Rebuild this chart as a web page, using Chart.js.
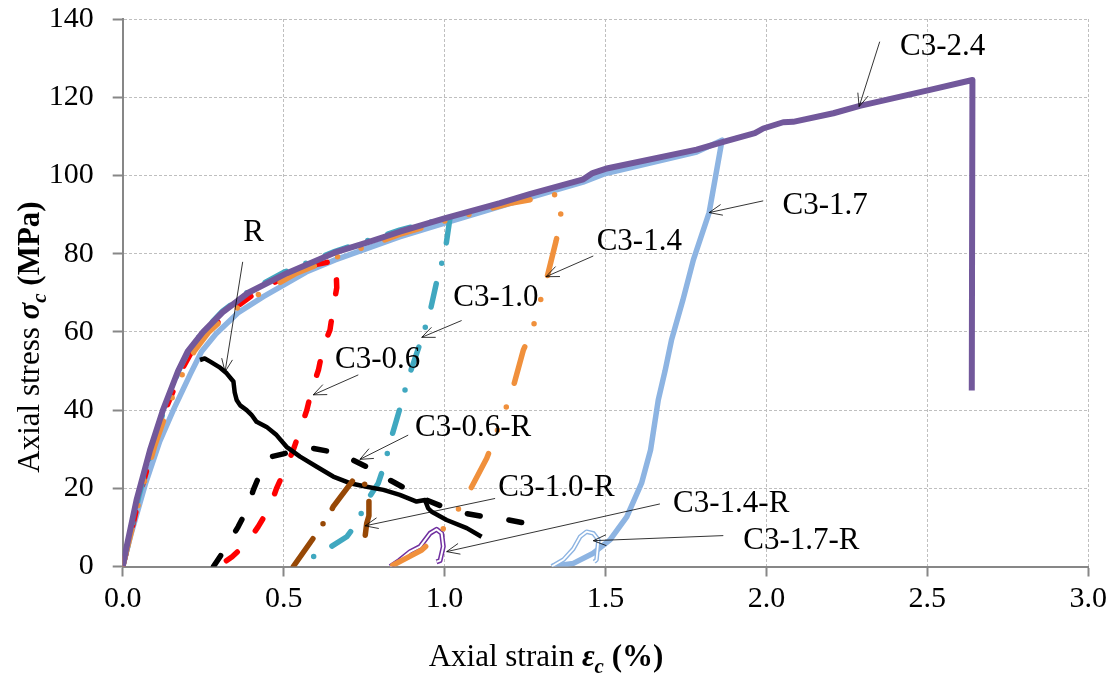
<!DOCTYPE html>
<html><head><meta charset="utf-8">
<script src="https://cdn.jsdelivr.net/npm/chart.js@4"></script>
<style>html,body{margin:0;padding:0;background:#fff}canvas{display:block}</style>
</head><body>
<canvas id="c" width="1118" height="682"></canvas>
<script>
// ---------- tick labels ----------
const xTickLabels = ['0.0', '0.5', '1.0', '1.5', '2.0', '2.5', '3.0'];
const yTickLabels = ['0', '20', '40', '60', '80', '100', '120', '140'];

// ---------- series (axial strain %, axial stress MPa) ----------
const c24X = [0, 0.01, 0.043, 0.085, 0.125, 0.172, 0.202, 0.25, 0.31, 0.39, 0.51, 0.66, 0.758, 0.861, 1.0, 1.172, 1.267, 1.431, 1.46, 1.5, 1.783, 1.866, 1.964, 1.99, 2.052, 2.083, 2.208, 2.29, 2.498, 2.64, 2.638];
const c24Y = [0, 4.2, 17, 29.8, 40, 50, 55, 60, 65, 70, 75, 80.3, 82.8, 85.6, 89.0, 92.9, 95.3, 99.0, 100.6, 101.7, 106.6, 108.6, 110.8, 112.0, 113.6, 113.7, 115.9, 117.8, 121.7, 124.4, 45];

const c17X = [0, 0.025, 0.07, 0.115, 0.16, 0.21, 0.245, 0.29, 0.36, 0.437, 0.57, 0.66, 0.86, 1.0, 1.267, 1.43, 1.5, 1.783, 1.862, 1.822, 1.773, 1.74, 1.705, 1.685, 1.664, 1.64, 1.612, 1.566, 1.514, 1.462, 1.40, 1.333];
const c17Y = [0, 8, 21, 32, 40.5, 49.2, 55, 59.5, 65, 69, 75.3, 78.4, 84.3, 87.8, 94.4, 98.3, 100.5, 106.0, 109.0, 90.5, 78.4, 68, 57.9, 50, 42.6, 29.8, 21.3, 12.7, 6.8, 3.4, 0.8, 0];

const c14X = [0, 0.018, 0.058, 0.1, 0.145, 0.19, 0.222, 0.268, 0.335, 0.41, 0.54, 0.66, 0.86, 1.0, 1.2, 1.3, 1.356, 1.362, 1.346, 1.315, 1.294, 1.274, 1.245, 1.208, 1.182, 1.157, 1.131, 1.068, 1.027, 0.98, 0.929, 0.841, 0.83];
const c14Y = [0, 6, 19, 31, 41.5, 50, 55, 60, 65, 69, 75, 79, 84.9, 88.3, 92.8, 94.3, 95.3, 89.0, 83.1, 72.8, 66.9, 60.9, 55.4, 44.3, 38.7, 33.2, 27.7, 17.8, 12.7, 8.1, 4.2, 0.4, 0];

const c10X = [0, 0.015, 0.05, 0.092, 0.13, 0.175, 0.205, 0.252, 0.31, 0.39, 0.5, 0.66, 0.86, 1.0, 1.017, 1.001, 0.98, 0.955, 0.93, 0.887, 0.867, 0.851, 0.83, 0.815, 0.794, 0.76, 0.727, 0.696, 0.623, 0.561, 0.54];
const c10Y = [0, 5, 18, 30.5, 40.5, 50.3, 55.2, 60.3, 65.3, 70.3, 75.2, 80.6, 86, 89, 89.2, 80.2, 74.5, 65.2, 58.5, 48.1, 42.1, 37.5, 31.7, 26.4, 21.3, 17.0, 11.0, 7.6, 3.8, 1.2, 0];

const c06X = [0, 0.02, 0.055, 0.097, 0.14, 0.185, 0.215, 0.262, 0.33, 0.41, 0.5, 0.6, 0.662, 0.665, 0.654, 0.644, 0.623, 0.608, 0.587, 0.572, 0.551, 0.53, 0.504, 0.478, 0.458, 0.421, 0.385, 0.34, 0.297];
const c06Y = [0, 6.5, 19, 31, 41.5, 50.5, 55, 60, 65, 69.8, 74, 77.2, 78.2, 71.3, 66, 60.5, 56.2, 50.2, 45.1, 40, 34.9, 29.8, 24.7, 20, 15.3, 10.2, 5.9, 2.5, 0];

const rX = [0.24, 0.255, 0.272, 0.3, 0.323, 0.344, 0.348, 0.354, 0.365, 0.385, 0.4, 0.416, 0.447, 0.478, 0.509, 0.551, 0.603, 0.654, 0.706, 0.758, 0.81, 0.861, 0.913, 0.939, 0.949, 0.96, 1.0065, 1.069, 1.115];
const rY = [52.8, 53.2, 52.4, 51.0, 49.4, 47.3, 44.5, 42.6, 41.2, 40.0, 38.8, 37.0, 35.7, 33.6, 30.6, 28.1, 25.5, 23.0, 21.3, 20.4, 19.6, 18.3, 16.6, 17.0, 14.9, 14.0, 11.9, 9.8, 7.6];

const c06rX = [0.282, 0.3125, 0.359, 0.385, 0.406, 0.427, 0.45, 0.463, 0.499, 0.55, 0.592, 0.644, 0.716, 0.758, 0.83, 0.877, 0.944, 1.006, 1.063, 1.125, 1.198, 1.255];
const c06rY = [0, 3.8, 10.2, 14.4, 19.6, 23.8, 27, 28.1, 28.8, 29.8, 30.2, 29.4, 27.2, 25.5, 22.1, 20.0, 17.0, 14.9, 13.6, 12.7, 11.9, 11.0];

const c10rX = [0.53, 0.603, 0.644, 0.654, 0.716, 0.737, 0.75, 0.765, 0.765, 0.758, 0.753];
const c10rY = [0, 8.5, 13.6, 15.3, 22.1, 23.0, 21.5, 17.5, 13, 11, 7.6];

const c14rX = [0.831, 0.86, 0.893, 0.924, 0.955, 0.975, 0.991, 0.996, 0.986, 0.975];
const c14rY = [0, 1.6, 3.8, 5.1, 8.5, 9.5, 8.5, 5.1, 1.5, 1.2];

const c17rX = [1.333, 1.37, 1.40, 1.421, 1.441, 1.462, 1.478, 1.472, 1.465];
const c17rY = [0, 1.8, 4.5, 7.6, 8.9, 8.5, 6.8, 1.7, 1.2];

// ---------- annotation texts ----------
const annLabels = ['C3-2.4', 'C3-1.7', 'C3-1.4', 'C3-1.0', 'C3-0.6', 'C3-0.6-R', 'C3-1.0-R', 'C3-1.4-R', 'C3-1.7-R', 'R'];
const annTextAt = [[2.415, 132.9], [2.050, 92.2], [1.4725, 83.0], [1.027, 68.7], [0.6595, 52.8], [0.908, 35.5], [1.167, 20.2], [1.710, 16.0], [1.928, 6.5], [0.3747, 85.4]];
const annArrowFrom = [[2.352, 134.2], [1.990, 93.5], [1.462, 79.4], [1.053, 62.9], [0.732, 49.0], [0.887, 33.6], [1.157, 17.4], [1.669, 16.0], [1.866, 7.9], [0.3728, 77.9]];
const annArrowTo = [[2.288, 117.6], [1.822, 90.5], [1.315, 74.1], [0.929, 58.6], [0.592, 43.9], [0.737, 27.4], [0.753, 10.4], [1.0065, 3.8], [1.462, 6.6], [0.318, 49.8]];

const xTitleParts = [['Axial strain ', 'n'], ['ε', 'bi'], ['c', 'sub'], [' (%)', 'b']];
const yTitleParts = [['Axial stress ', 'n'], ['σ', 'bi'], ['c', 'sub'], [' (MPa)', 'b']];

// ---------- build ----------
const FAM = '"Liberation Serif", "Times New Roman", serif';
const pts = (xs, ys) => xs.map((v, i) => ({x: v, y: ys[i]}));
const line = (label, xs, ys, color, width, dash) => ({
  label, data: pts(xs, ys), borderColor: color, backgroundColor: color, borderWidth: width,
  borderDash: dash || [], borderCapStyle: dash ? 'round' : 'butt', borderJoinStyle: 'round',
  showLine: true, pointRadius: 0, pointHoverRadius: 0, fill: false, tension: 0
});

const datasets = [
  line('C3-2.4', c24X, c24Y, '#72589B', 6),
  line('C3-1.4', c14X, c14Y, '#F0903C', 5.5, [38, 25, 0, 25, 0, 25]),
  line('C3-1.7-R inner', c17rX, c17rY, '#FFFFFF', 1.8),
  line('C3-1.7-R', c17rX, c17rY, '#8DB4E2', 4.6),
  line('C3-1.4-R inner', c14rX, c14rY, '#FFFFFF', 2),
  line('C3-1.4-R', c14rX, c14rY, '#7030A0', 5),
  line('C3-1.0-R', c10rX, c10rY, '#974806', 5.5, [34, 18, 0, 18]),
  line('C3-0.6-R', c06rX, c06rY, '#000000', 5.5, [13, 29]),
  line('R', rX, rY, '#000000', 4.5),
  line('C3-1.0', c10X, c10Y, '#40A8C0', 5.5, [24, 21, 0, 21]),
  line('C3-0.6', c06X, c06Y, '#FF0000', 5.5, [14, 28]),
  line('C3-1.7', c17X, c17Y, '#8DB4E2', 5.5)
];

function partFont(s) {
  if (s === 'bi') return 'italic bold 31px ' + FAM;
  if (s === 'sub') return 'italic bold 21px ' + FAM;
  if (s === 'b') return 'bold 31px ' + FAM;
  return '31px ' + FAM;
}
function richWidth(ctx, parts) {
  let w = 0;
  for (const [t, s] of parts) { ctx.font = partFont(s); w += ctx.measureText(t).width; }
  return w;
}
function drawRich(ctx, parts, x0, base) {
  let xx = x0;
  for (const [t, s] of parts) {
    ctx.font = partFont(s);
    ctx.fillText(t, xx, base + (s === 'sub' ? 7 : 0));
    xx += ctx.measureText(t).width;
  }
}

const annotate = {
  id: 'annotate',
  afterDatasetsDraw(chart) {
    const ctx = chart.ctx, xs = chart.scales.x, ys = chart.scales.y;
    ctx.save();
    ctx.strokeStyle = '#000'; ctx.lineWidth = 0.8; ctx.lineCap = 'butt';
    for (let i = 0; i < annLabels.length; i++) {
      const x0 = xs.getPixelForValue(annArrowFrom[i][0]), y0 = ys.getPixelForValue(annArrowFrom[i][1]);
      const x1 = xs.getPixelForValue(annArrowTo[i][0]), y1 = ys.getPixelForValue(annArrowTo[i][1]);
      const a = Math.atan2(y0 - y1, x0 - x1), L = 14, s = 0.4;
      ctx.beginPath();
      ctx.moveTo(x0, y0); ctx.lineTo(x1, y1);
      ctx.moveTo(x1 + L * Math.cos(a + s), y1 + L * Math.sin(a + s));
      ctx.lineTo(x1, y1);
      ctx.lineTo(x1 + L * Math.cos(a - s), y1 + L * Math.sin(a - s));
      ctx.stroke();
    }
    ctx.fillStyle = '#000'; ctx.textAlign = 'left'; ctx.textBaseline = 'middle';
    ctx.font = '31px ' + FAM;
    for (let i = 0; i < annLabels.length; i++) {
      ctx.fillText(annLabels[i], xs.getPixelForValue(annTextAt[i][0]), ys.getPixelForValue(annTextAt[i][1]));
    }
    ctx.restore();
  },
  afterDraw(chart) {
    const ctx = chart.ctx;
    ctx.save();
    ctx.fillStyle = '#000'; ctx.textAlign = 'left'; ctx.textBaseline = 'alphabetic';
    const wx = richWidth(ctx, xTitleParts);
    drawRich(ctx, xTitleParts, 546 - wx / 2, 666);
    const wy = richWidth(ctx, yTitleParts);
    ctx.translate(0, 337);
    ctx.rotate(-Math.PI / 2);
    drawRich(ctx, yTitleParts, -wy / 2, 39);
    ctx.restore();
  }
};

const axisGray = '#878787';
new Chart(document.getElementById('c'), {
  type: 'scatter',
  data: {datasets},
  plugins: [annotate],
  options: {
    responsive: false, animation: false, devicePixelRatio: 1,
    layout: {padding: {left: 0, right: 29.7, top: 19, bottom: 0}},
    plugins: {legend: {display: false}, tooltip: {enabled: false}},
    scales: {
      x: {
        type: 'linear', min: 0, max: 3,
        afterFit: s => { s.height = 115.5; s.paddingLeft = 0; s.paddingRight = 0; },
        ticks: {stepSize: 0.5, autoSkip: false, maxRotation: 0, padding: 5, color: '#000',
          font: {family: FAM, size: 30}, callback: (v, i) => xTickLabels[i]},
        grid: {color: '#BFBFBF', lineWidth: 1, tickColor: axisGray, tickWidth: 2, tickLength: 10, tickBorderDash: []},
        border: {display: true, color: axisGray, width: 2, dash: [3, 2]}
      },
      y: {
        type: 'linear', min: 0, max: 140,
        afterFit: s => { s.width = 122.7; s.paddingTop = 0; s.paddingBottom = 0; },
        ticks: {stepSize: 20, autoSkip: false, padding: 19, color: '#000',
          font: {family: FAM, size: 30}, callback: (v, i) => yTickLabels[i]},
        grid: {color: '#BFBFBF', lineWidth: 1, tickColor: axisGray, tickWidth: 2, tickLength: 10, tickBorderDash: []},
        border: {display: true, color: axisGray, width: 2, dash: [3, 2]}
      }
    }
  }
});
</script>
</body></html>
